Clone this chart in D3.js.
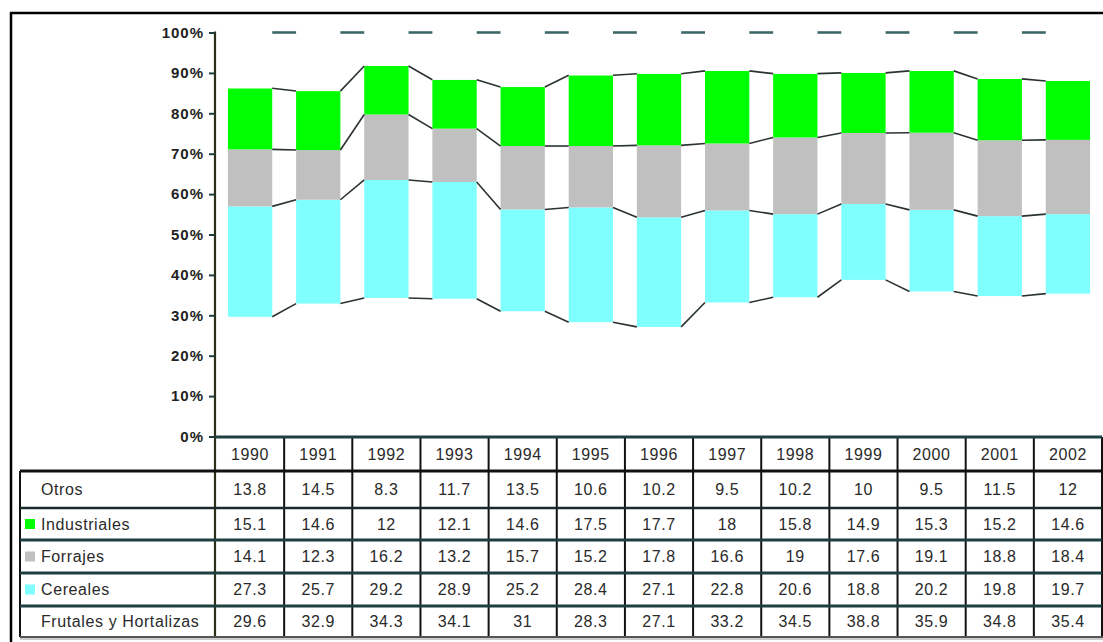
<!DOCTYPE html>
<html>
<head>
<meta charset="utf-8">
<script src="https://cdn.jsdelivr.net/npm/d3@7/dist/d3.min.js"></script>
<style>
  body { margin: 0; background: #fff; }
  svg { display: block; }
  text { font-family: Arial, "Liberation Sans", sans-serif; }
</style>
</head>
<body>
<svg id="chart" width="1103" height="642"></svg>
<script>
// Land use shares by crop group, 1990-2002 (% of total)
const years = [1990, 1991, 1992, 1993, 1994, 1995, 1996, 1997, 1998, 1999, 2000, 2001, 2002];
const otros        = [13.8, 14.5, 8.3, 11.7, 13.5, 10.6, 10.2, 9.5, 10.2, 10, 9.5, 11.5, 12];
const industriales = [15.1, 14.6, 12, 12.1, 14.6, 17.5, 17.7, 18, 15.8, 14.9, 15.3, 15.2, 14.6];
const forrajes     = [14.1, 12.3, 16.2, 13.2, 15.7, 15.2, 17.8, 16.6, 19, 17.6, 19.1, 18.8, 18.4];
const cereales     = [27.3, 25.7, 29.2, 28.9, 25.2, 28.4, 27.1, 22.8, 20.6, 18.8, 20.2, 19.8, 19.7];
const frutales     = [29.6, 32.9, 34.3, 34.1, 31, 28.3, 27.1, 33.2, 34.5, 38.8, 35.9, 34.8, 35.4];

// stacking order, bottom to top
const stackKeys = ["Frutales y Hortalizas", "Cereales", "Forrajes", "Industriales", "Otros"];
const seriesValues = {
  "Frutales y Hortalizas": frutales,
  "Cereales": cereales,
  "Forrajes": forrajes,
  "Industriales": industriales,
  "Otros": otros
};
const seriesColors = {
  "Frutales y Hortalizas": "#ffffff",
  "Cereales": "#80ffff",
  "Forrajes": "#c0c0c0",
  "Industriales": "#00ff00",
  "Otros": "#ffffff"
};
// row order of the data table
const tableRows = ["Otros", "Industriales", "Forrajes", "Cereales", "Frutales y Hortalizas"];
const yTicks = [0, 0.1, 0.2, 0.3, 0.4, 0.5, 0.6, 0.7, 0.8, 0.9, 1];

const svg = d3.select("#chart");

const plotLeft = 216, plotRight = 1102, plotTop = 32.5, plotBottom = 436.5;

const rows = years.map((yr, i) => {
  const r = { year: yr };
  stackKeys.forEach(k => r[k] = seriesValues[k][i]);
  return r;
});
const layers = d3.stack().keys(stackKeys).offset(d3.stackOffsetExpand)(rows);

const x = d3.scaleBand().domain(years).range([plotLeft, plotRight])
  .paddingInner(0.35).paddingOuter(0.175);
const xCol = d3.scaleBand().domain(years).range([plotLeft, plotRight]);
const y = d3.scaleLinear().domain([0, 1]).range([plotBottom, plotTop]);
const bw = x.bandwidth();

// outer frame
svg.append("line").attr("x1", 10).attr("x2", 1103).attr("y1", 13).attr("y2", 13)
  .attr("stroke", "#000").attr("stroke-width", 2.5);
svg.append("line").attr("x1", 11).attr("x2", 11).attr("y1", 12).attr("y2", 642)
  .attr("stroke", "#000").attr("stroke-width", 2.5);

// stacked columns
const layerG = svg.append("g").selectAll("g").data(layers).join("g")
  .attr("fill", d => seriesColors[d.key]);
layerG.selectAll("rect").data(d => d).join("rect")
  .attr("x", d => x(d.data.year))
  .attr("width", bw)
  .attr("y", d => y(d[1]))
  .attr("height", d => y(d[0]) - y(d[1]));

// series lines joining the top of each segment across the gaps
const segs = [];
layers.forEach(layer => {
  for (let i = 0; i < layer.length - 1; i++) {
    segs.push({
      key: layer.key,
      x1: x(years[i]) + bw, y1: y(layer[i][1]),
      x2: x(years[i + 1]), y2: y(layer[i + 1][1])
    });
  }
});
svg.append("g").selectAll("line").data(segs).join("line")
  .attr("x1", d => d.x1).attr("y1", d => d.y1)
  .attr("x2", d => d.x2).attr("y2", d => d.y2)
  .attr("stroke", d => d.key === "Otros" ? "#3d6868" : "#2a3330")
  .attr("stroke-width", d => d.key === "Otros" ? 2.6 : 1.6);

// y axis
const yAxis = svg.append("g").attr("transform", `translate(${plotLeft - 1},0)`)
  .call(d3.axisLeft(y).tickValues(yTicks).tickFormat(d3.format(".0%")).tickSize(6).tickPadding(5));
yAxis.select(".domain").attr("stroke", "#2e2e18").attr("stroke-width", 2.2)
  .attr("d", `M0,${plotTop - 1}V${plotBottom}`);
yAxis.selectAll(".tick line").attr("stroke", "#1f3c3c").attr("stroke-width", 2);
yAxis.selectAll(".tick text")
  .attr("font-size", 15).attr("font-weight", "bold").attr("letter-spacing", 1)
  .attr("fill", "#222").attr("font-family", "Arial, 'Liberation Sans', sans-serif");

// data table
const rowEdges = [437, 471, 508, 540, 573, 606, 637];
const tableLeft = 20;
const tg = svg.append("g");

// header: years
tg.selectAll("text.yr").data(years).join("text").attr("class", "yr")
  .attr("x", d => xCol(d) + xCol.bandwidth() / 2)
  .attr("y", (rowEdges[0] + rowEdges[1]) / 2)
  .attr("dy", "0.36em").attr("text-anchor", "middle")
  .attr("font-size", 16).attr("letter-spacing", 0.6).attr("fill", "#2a2a2a")
  .text(d => d);

// value rows
tableRows.forEach((key, r) => {
  const cy = (rowEdges[r + 1] + rowEdges[r + 2]) / 2;
  tg.append("g").selectAll("text").data(seriesValues[key]).join("text")
    .attr("x", (d, i) => xCol(years[i]) + xCol.bandwidth() / 2)
    .attr("y", cy).attr("dy", "0.36em").attr("text-anchor", "middle")
    .attr("font-size", 16).attr("letter-spacing", 0.6).attr("fill", "#2a2a2a")
    .text(d => d);
  tg.append("rect").attr("x", 25).attr("y", cy - 5).attr("width", 10).attr("height", 10)
    .attr("fill", seriesColors[key]);
  tg.append("text").attr("x", 41).attr("y", cy).attr("dy", "0.36em")
    .attr("font-size", 16).attr("letter-spacing", 0.6).attr("fill", "#2a2a2a")
    .text(key);
});

// grid lines of the table
const colEdges = years.map(yr => xCol(yr)).concat([plotRight]);
tg.selectAll("line.v").data(colEdges.slice(1)).join("line").attr("class", "v")
  .attr("x1", d => d).attr("x2", d => d)
  .attr("y1", rowEdges[0]).attr("y2", rowEdges[6])
  .attr("stroke", "#111").attr("stroke-width", 2);
tg.append("line").attr("x1", plotLeft - 1).attr("x2", plotLeft - 1)
  .attr("y1", rowEdges[0]).attr("y2", rowEdges[6])
  .attr("stroke", "#2e2e18").attr("stroke-width", 2.2);
tg.append("line").attr("x1", tableLeft).attr("x2", tableLeft)
  .attr("y1", rowEdges[1]).attr("y2", rowEdges[6])
  .attr("stroke", "#111").attr("stroke-width", 2);
const hLines = [
  { y: rowEdges[1], c: "#111", w: 3 },
  { y: rowEdges[2], c: "#1a2a2a", w: 2.5 },
  { y: rowEdges[3], c: "#1d3f3f", w: 3 },
  { y: rowEdges[4], c: "#1d3f3f", w: 3 },
  { y: rowEdges[5], c: "#1d3f3f", w: 3 }
];
tg.selectAll("line.h").data(hLines).join("line").attr("class", "h")
  .attr("x1", tableLeft).attr("x2", plotRight)
  .attr("y1", d => d.y).attr("y2", d => d.y)
  .attr("stroke", d => d.c).attr("stroke-width", d => d.w);
tg.append("line").attr("x1", tableLeft).attr("x2", plotRight + 1)
  .attr("y1", rowEdges[6]).attr("y2", rowEdges[6])
  .attr("stroke", "#555").attr("stroke-width", 2);
tg.append("line").attr("x1", tableLeft).attr("x2", plotRight + 1)
  .attr("y1", rowEdges[6] + 2).attr("y2", rowEdges[6] + 2)
  .attr("stroke", "#bbb").attr("stroke-width", 1.5);

// category axis line at 0%
svg.append("line").attr("x1", plotLeft - 1).attr("x2", plotRight)
  .attr("y1", plotBottom + 0.5).attr("y2", plotBottom + 0.5)
  .attr("stroke", "#1f4040").attr("stroke-width", 3);
</script>
</body>
</html>
